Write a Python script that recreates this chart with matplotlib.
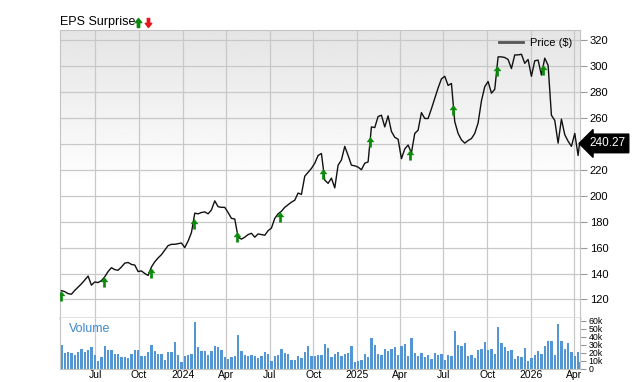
import matplotlib
matplotlib.use('Agg')
import matplotlib.pyplot as plt
import matplotlib.dates as mdates
from matplotlib.path import Path
from matplotlib.transforms import blended_transform_factory
import numpy as np
import pandas as pd

plt.rcParams['font.family'] = ['Liberation Sans', 'DejaVu Sans']

# weekly closes + last quote
dates = list(pd.date_range('2023-04-21', periods=156, freq='7D')) + [pd.Timestamp('2026-04-13')]
price = [126.8, 126, 124.5, 124, 127, 129.5, 132, 135, 138, 131,
         133.5, 133, 134.5, 137.5, 141.5, 144.5, 143, 142.5, 145, 148,
         148.5, 147, 146.5, 141.5, 142, 140, 138.5, 145, 149, 152,
         154.5, 158, 161.5, 162.5, 162.5, 163, 163.5, 160, 165, 171.5,
         186.5, 186, 187, 187.5, 186, 189, 196, 191.5, 191, 191,
         187, 182.5, 182, 168, 166.5, 168, 170, 171, 168, 170.5,
         170, 169.5, 173, 175, 182.5, 186, 188, 191, 193, 195,
         196.5, 202, 201, 215, 218, 221, 225, 231, 232.5, 212,
         209.5, 213.5, 206, 223.5, 227.5, 238, 231, 223.5, 223, 222,
         220, 225, 226, 253, 252.5, 261, 262, 253, 261.5, 249.5,
         245, 243.5, 228.5, 236, 239, 233, 248, 250.5, 264, 259.5,
         259.5, 267, 275, 283, 290, 292, 285, 286.5, 257, 248,
         243, 240.5, 242.5, 244, 248, 256, 273, 284, 288, 279,
         282, 307, 307, 306.5, 305, 298, 308.5, 308.5, 309, 302,
         305, 292, 304, 304.5, 293, 306, 300.5, 262, 258, 240.5,
         259, 247, 242, 238, 248, 231, 240.27]
# volume in thousands
volume_k = [30, 19.6, 20.4, 19.6, 17.5, 20.4, 24.6, 20.4, 23.7, 26.7,
            17.5, 10, 14, 28.7, 23.7, 23.7, 18.3, 18.3, 14.6, 14.6,
            13.3, 18.3, 22.9, 22.9, 15.4, 15.4, 20.4, 30, 22.5, 18.3,
            18.7, 10.4, 20.8, 20.8, 33.3, 16.7, 8.3, 15.4, 16.7, 18.7,
            57.9, 27, 22.5, 21.7, 16.7, 21.7, 28.7, 27, 23.7, 14.6,
            12.5, 14.6, 16.3, 42.5, 22.5, 16.7, 15.4, 17.5, 15.4, 13.3,
            15.4, 20.8, 18.3, 9.2, 15.4, 17.5, 25, 19.6, 18.3, 10.4,
            10.4, 15.4, 13.3, 20.8, 27.9, 15.4, 16.3,
            17.5, 17.5, 30.8, 25.8, 14.6, 18.3, 20.8, 16.3, 18.3, 19.6,
            27.9, 7.9, 10, 11.3, 18.3, 14.6, 38.3, 30, 18.7, 17.5,
            25, 21.7, 25, 27, 17.5, 27.9, 31.3, 15.4, 38.3, 19.6,
            16.3, 19.6, 14.6, 16.7, 12.5, 19.6, 17.5, 18.3, 11.3, 16.7,
            15.4, 46.7, 30, 27.9, 32.1, 15.4, 17.5, 13.3, 23.7, 25,
            33.3, 23.7, 24.6, 18.7, 51.7, 32.1, 26.7, 21.7, 23.7, 12.1,
            16.3, 14.6, 25.8, 9.2, 13.3, 16.7, 22.5, 18.7, 27.9, 34.2,
            35, 17.5, 55.8, 35, 24.6, 32.1, 20.8, 15.4, 20.8, 8.3]
eps_dates = ['2023-04-20', '2023-07-20', '2023-10-26', '2024-01-24', '2024-04-24', '2024-07-24',
             '2024-10-22', '2025-01-29', '2025-04-22', '2025-07-22', '2025-10-22', '2026-01-27']
price_ticks = [120, 140, 160, 180, 200, 220, 240, 260, 280, 300, 320]
price_labels = ['120', '140', '160', '180', '200', '220', '', '260', '280', '300', '320']  # 240 hidden by tag
vol_ticks = [0, 10, 20, 30, 40, 50, 60]
vol_labels = ['0', '10k', '20k', '30k', '40k', '50k', '60k']
last_price = '240.27'

W, H = 640, 382
fig = plt.figure(figsize=(W / 100, H / 100), dpi=100)
ax = fig.add_axes([60 / W, (H - 318) / H, 520 / W, 288 / H])
axv = fig.add_axes([60 / W, (H - 369) / H, 520 / W, 51 / H], sharex=ax)

x = mdates.date2num(dates)
x0 = mdates.date2num(pd.Timestamp('2023-04-18'))
x1 = mdates.date2num(pd.Timestamp('2026-04-14'))

# grey-to-white gradient behind price panel
grad = np.ones((200, 1))
grad[:110, 0] = np.linspace(0.895, 1.0, 110)
ax.imshow(grad, extent=[0, 1, 0, 1], transform=ax.transAxes, aspect='auto',
          cmap='gray', vmin=0, vmax=1, zorder=0)

ax.plot(x, price, color='#111111', lw=1.0, zorder=3, label='Price ($)')

# arrow markers, tip at the point
up = Path([(0, 0), (-3.6, -4.6), (-1.3, -4.6), (-1.3, -10), (1.3, -10), (1.3, -4.6), (3.6, -4.6), (0, 0)],
          [Path.MOVETO] + [Path.LINETO] * 6 + [Path.CLOSEPOLY])
down = Path([(0, 0), (-3.6, 4.6), (-1.3, 4.6), (-1.3, 10), (1.3, 10), (1.3, 4.6), (3.6, 4.6), (0, 0)],
            [Path.MOVETO] + [Path.LINETO] * 6 + [Path.CLOSEPOLY])
ex = mdates.date2num(pd.to_datetime(eps_dates))
ey = np.interp(ex, x, price)
ax.plot(ex, ey, ls='none', marker=up, ms=14, color='#0b8a0b', mec='#0b8a0b', mew=0.3, zorder=4)

ax.set_xlim(x0, x1)
ax.set_ylim(105.7, 327.7)
ax.set_yticks(price_ticks)
ax.set_yticklabels(price_labels)
ax.yaxis.tick_right()
ax.tick_params(axis='y', length=5, width=0.8, color='#999999', labelsize=8, pad=2)
ax.tick_params(axis='x', length=0, labelbottom=False)
ax.grid(True, color='#c8c8c8', lw=0.9, zorder=1)
ax.set_axisbelow(True)
for s in ['top', 'left', 'right']:
    ax.spines[s].set_color('#c4c4c4')
ax.spines['bottom'].set_color('#dddddd')
ax.spines['bottom'].set_linewidth(2)

leg = ax.legend(loc='upper right', frameon=False, fontsize=8, handlelength=2.2,
                borderaxespad=0.3, handletextpad=0.6)
leg.get_lines()[0].set_color('#555555')
leg.get_lines()[0].set_linewidth(2)

# last price tag
tr = blended_transform_factory(ax.transAxes, ax.transData)
ax.text(1.018, float(last_price), last_price, transform=tr, color='white', fontsize=8.5,
        va='center', ha='left', zorder=5,
        bbox=dict(boxstyle='larrow,pad=0.28', fc='black', ec='black'))

# volume panel
axv.bar(x, volume_k, width=4.6, color='#5396d3', zorder=2)
axv.set_ylim(-0.5, 63.25)
axv.set_yticks(vol_ticks)
axv.set_yticklabels(vol_labels)
axv.yaxis.tick_right()
axv.tick_params(axis='y', length=4, width=0.8, color='#999999', labelsize=6.3, pad=2)
axv.tick_params(axis='x', length=0, labelsize=7.5, pad=1)
axv.grid(True, axis='x', color='#c8c8c8', lw=0.9, zorder=1)
axv.set_axisbelow(True)
for s in ['top', 'left', 'right', 'bottom']:
    axv.spines[s].set_color('#c4c4c4')
axv.spines['top'].set_visible(False)
axv.text(0.018, 0.78, 'Volume', transform=axv.transAxes, color='#3d8bd0', fontsize=9, va='center')

axv.xaxis.set_major_locator(mdates.MonthLocator(bymonth=[1, 4, 7, 10]))
axv.xaxis.set_major_formatter(plt.FuncFormatter(
    lambda v, p: mdates.num2date(v).strftime('%Y') if mdates.num2date(v).month == 1
    else mdates.num2date(v).strftime('%b')))

# header
fig.text(60 / W, 1 - 22.5 / H, 'EPS Surprise', fontsize=9, va='center', ha='left')
fig.lines.append(plt.Line2D([138 / W], [1 - 18 / H], transform=fig.transFigure, ls='none',
                            marker=up, ms=13, color='#0b8a0b'))
fig.lines.append(plt.Line2D([148 / W], [1 - 27 / H], transform=fig.transFigure, ls='none',
                            marker=down, ms=13, color='#e8141c'))

fig.savefig('out.png', dpi=100)
